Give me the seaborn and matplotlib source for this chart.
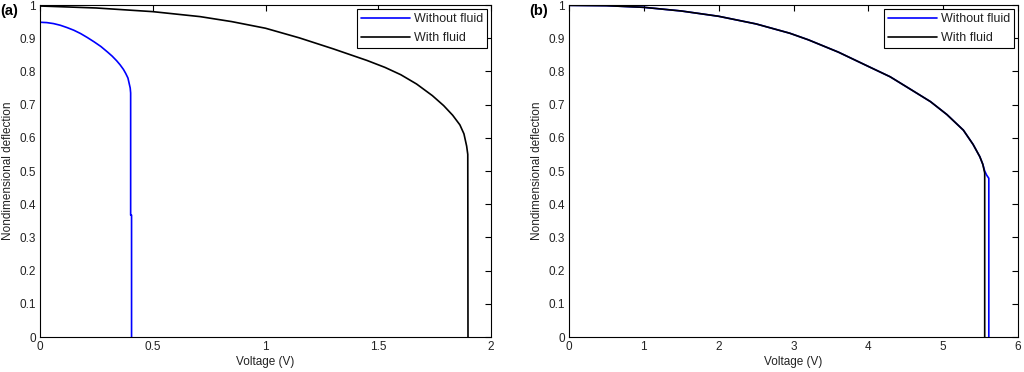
import numpy as np
import pandas as pd
import matplotlib
matplotlib.use("Agg")
import matplotlib.pyplot as plt
import seaborn as sns

# ---- data ----
# Panel (a)
a_without_v = [0.0, 0.03, 0.06, 0.09, 0.12, 0.15, 0.18, 0.21, 0.24, 0.27, 0.30, 0.32, 0.34,
               0.355, 0.37, 0.38, 0.39, 0.395, 0.400, 0.402, 0.402, 0.406, 0.406]
a_without_y = [0.948, 0.947, 0.944, 0.939, 0.932, 0.924, 0.914, 0.902, 0.889, 0.875, 0.858,
               0.846, 0.832, 0.820, 0.806, 0.794, 0.780, 0.765, 0.750, 0.735, 0.367, 0.367, 0.0]
a_with_v = [0.0, 0.25, 0.5, 0.71, 0.85, 1.0, 1.15, 1.30, 1.45, 1.53, 1.60, 1.67, 1.74,
            1.79, 1.83, 1.862, 1.88, 1.892, 1.897, 1.898]
a_with_y = [0.997, 0.991, 0.980, 0.965, 0.950, 0.930, 0.901, 0.868, 0.833, 0.812, 0.790,
            0.762, 0.727, 0.697, 0.668, 0.639, 0.612, 0.575, 0.550, 0.0]

# Panel (b)
b_without_v = [0.0, 0.5, 1.0, 1.5, 2.0, 2.5, 2.95, 3.2, 3.6, 4.0, 4.29, 4.55, 4.83, 5.05,
               5.27, 5.40, 5.49, 5.53, 5.555, 5.58, 5.61, 5.61]
b_without_y = [0.999, 0.998, 0.993, 0.982, 0.966, 0.943, 0.915, 0.895, 0.858, 0.815, 0.784,
               0.748, 0.709, 0.670, 0.623, 0.580, 0.543, 0.520, 0.500, 0.488, 0.478, 0.0]
b_with_v = [0.0, 0.5, 1.0, 1.5, 2.0, 2.5, 2.95, 3.2, 3.6, 4.0, 4.29, 4.55, 4.83, 5.05,
            5.27, 5.40, 5.49, 5.53, 5.555, 5.555]
b_with_y = [0.999, 0.998, 0.993, 0.982, 0.966, 0.943, 0.915, 0.895, 0.858, 0.815, 0.784,
            0.748, 0.709, 0.670, 0.623, 0.580, 0.543, 0.520, 0.494, 0.0]

series_names = ["Without fluid", "With fluid"]
a_xticks = [0, 0.5, 1, 1.5, 2]
a_xticklabels = ["0", "0.5", "1", "1.5", "2"]
b_xticks = [0, 1, 2, 3, 4, 5, 6]
b_xticklabels = ["0", "1", "2", "3", "4", "5", "6"]
yticks = [0, 0.1, 0.2, 0.3, 0.4, 0.5, 0.6, 0.7, 0.8, 0.9, 1]
yticklabels = ["0", "0.1", "0.2", "0.3", "0.4", "0.5", "0.6", "0.7", "0.8", "0.9", "1"]

sns.set_theme(style="white")
plt.rcParams["font.family"] = ["Liberation Sans", "DejaVu Sans"]

fig = plt.figure(figsize=(10.24, 3.72), dpi=100)
ax_a = fig.add_axes([40 / 1024, 35 / 372, 451 / 1024, 332 / 372])
ax_b = fig.add_axes([569 / 1024, 35 / 372, 449 / 1024, 332 / 372])

colors = {"Without fluid": "#0000ff", "With fluid": "#000000"}
txt = "#222222"


def make_df(v1, y1, v2, y2):
    d1 = pd.DataFrame({"V": v1, "y": y1, "series": series_names[0]})
    d2 = pd.DataFrame({"V": v2, "y": y2, "series": series_names[1]})
    return pd.concat([d1, d2], ignore_index=True)


panels = [
    (ax_a, make_df(a_without_v, a_without_y, a_with_v, a_with_y), (0, 2), a_xticks, a_xticklabels, "(a)"),
    (ax_b, make_df(b_without_v, b_without_y, b_with_v, b_with_y), (0, 6), b_xticks, b_xticklabels, "(b)"),
]

for ax, df, xlim, xt, xtl, tag in panels:
    sns.lineplot(data=df, x="V", y="y", hue="series", palette=colors,
                 hue_order=series_names, sort=False, estimator=None,
                 linewidth=1.2, ax=ax)
    ax.set_xlim(*xlim)
    ax.set_ylim(0, 1)
    ax.set_xticks(xt)
    ax.set_xticklabels(xtl)
    ax.set_yticks(yticks)
    ax.set_yticklabels(yticklabels)
    ax.tick_params(direction="in", length=4, width=0.8, top=True, right=True,
                   labelsize=8.5, colors="#000000", labelcolor=txt, pad=3)
    for s in ax.spines.values():
        s.set_visible(True)
        s.set_color("#000000")
        s.set_linewidth(0.8)
    ax.set_xlabel("Voltage (V)", fontsize=8.5, color=txt, labelpad=2)
    ax.set_ylabel("Nondimensional deflection", fontsize=8.5, color=txt, labelpad=4)
    leg = ax.legend(loc="upper right", fontsize=9, frameon=True, fancybox=False,
                    edgecolor="#000000", framealpha=1, borderpad=0.35,
                    handlelength=3.9, handletextpad=0.3, labelspacing=0.55,
                    borderaxespad=0.3)
    leg.get_frame().set_linewidth(0.8)
    for t in leg.get_texts():
        t.set_color(txt)
    ax.text(-0.088, 0.982, tag, transform=ax.transAxes, fontsize=10.5,
            fontweight="bold", ha="left", va="center", color="#000000")

fig.savefig("out.png", dpi=100)
